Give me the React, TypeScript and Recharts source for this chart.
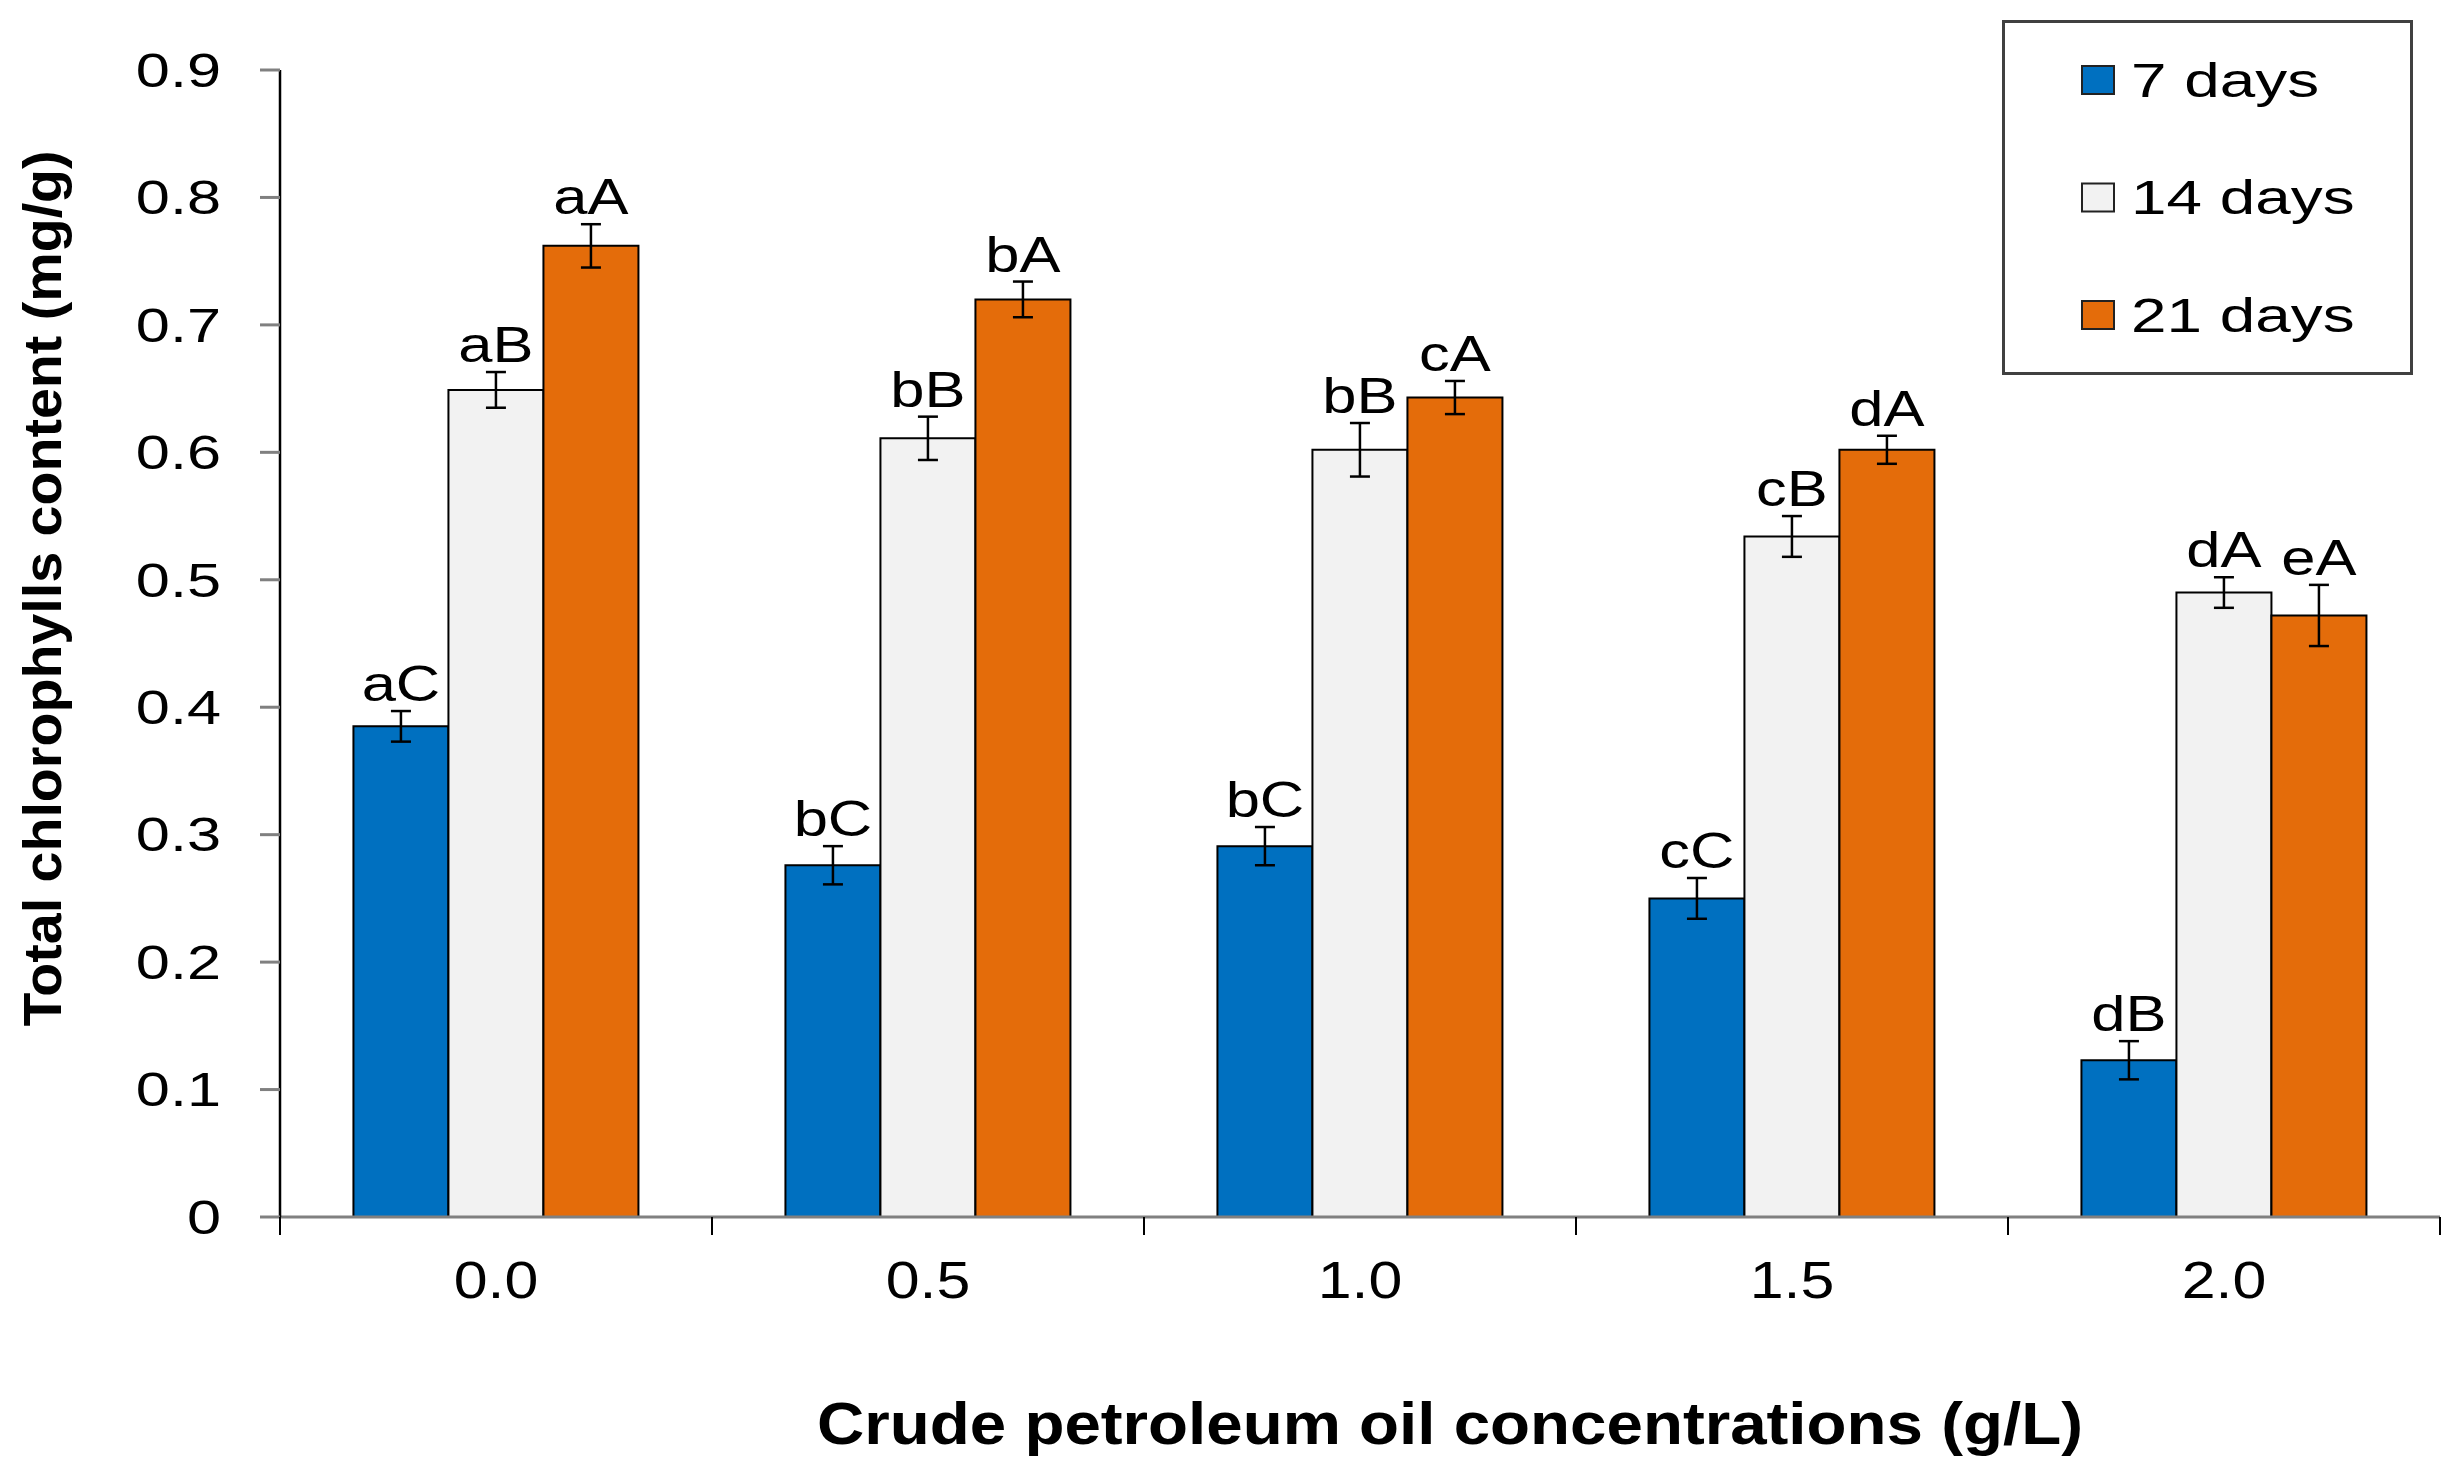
import { BarChart, Bar, XAxis, YAxis, ErrorBar, LabelList, Legend } from 'recharts';

const categories = ['0.0', '0.5', '1.0', '1.5', '2.0'];
const seriesNames = ['7 days', '14 days', '21 days'];
const seriesColors = ['#0070C0', '#F2F2F2', '#E46C0A'];

const days7 = [0.385, 0.276, 0.291, 0.25, 0.123];
const days14 = [0.649, 0.611, 0.602, 0.534, 0.49];
const days21 = [0.762, 0.72, 0.643, 0.602, 0.472];

const err7 = [0.012, 0.015, 0.015, 0.016, 0.015];
const err14 = [0.014, 0.017, 0.021, 0.016, 0.012];
const err21 = [0.017, 0.014, 0.013, 0.011, 0.024];

const letters7 = ['aC', 'bC', 'bC', 'cC', 'dB'];
const letters14 = ['aB', 'bB', 'bB', 'cB', 'dA'];
const letters21 = ['aA', 'bA', 'cA', 'dA', 'eA'];

const yTicks = [0, 0.1, 0.2, 0.3, 0.4, 0.5, 0.6, 0.7, 0.8, 0.9];

const data = categories.map((c, i) => ({
  conc: c,
  d7: days7[i],
  d14: days14[i],
  d21: days21[i],
  e7: err7[i],
  e14: err14[i],
  e21: err21[i],
}));

const FONT = '"Liberation Sans", Arial, sans-serif';
const X_TICK_MARGIN = 43;
const BOUNDARY_TICK = 18;

// text widened horizontally, the source figure is stretched
function Stretch({ x, y, sx = 1, anchor = 'start', size, weight = 'normal', rotate, baseline, children }: any) {
  const t = `translate(${x},${y})${rotate ? ` rotate(${rotate})` : ''} scale(${sx},1)`;
  return (
    <text
      transform={t}
      x={0}
      y={0}
      textAnchor={anchor}
      dominantBaseline={baseline}
      fontFamily={FONT}
      fontSize={size}
      fontWeight={weight}
      fill="#000"
    >
      {children}
    </text>
  );
}

const YTick = ({ x, y, payload }: any) => (
  <Stretch x={x} y={y} sx={1.25} anchor="end" size={49} baseline="central">
    {payload.value === 0 ? '0' : Number(payload.value).toFixed(1)}
  </Stretch>
);

// category label plus the tick marks on the band edges
const XTick = ({ x, y, payload }: any) => {
  const half = payload?.offset ?? 0;
  const axisY = y - X_TICK_MARGIN;
  const last = payload?.index === categories.length - 1 || payload?.value === categories[categories.length - 1];
  return (
    <g>
      {half > 0 && (
        <line x1={x - half} x2={x - half} y1={axisY} y2={axisY + BOUNDARY_TICK} stroke="#000" strokeWidth={2} />
      )}
      {half > 0 && last && (
        <line x1={x + half} x2={x + half} y1={axisY} y2={axisY + BOUNDARY_TICK} stroke="#000" strokeWidth={2} />
      )}
      <Stretch x={x} y={y + 38} sx={1.17} anchor="middle" size={52}>
        {payload.value}
      </Stretch>
    </g>
  );
};

const makeLetter = (vals: number[], errs: number[], letters: string[]) => (p: any) => {
  const vb = p.viewBox ?? p;
  const i = categories.indexOf(String(p.value));
  if (i < 0) return null;
  const x = vb.x ?? p.x;
  const y = vb.y ?? p.y;
  const w = vb.width ?? p.width;
  const h = Math.abs(vb.height ?? p.height);
  const errPx = (h / vals[i]) * errs[i];
  return (
    <Stretch x={x + w / 2} y={y - errPx - 10} sx={1.23} anchor="middle" size={50}>
      {letters[i]}
    </Stretch>
  );
};

const YTitle = (p: any) => {
  const vb = p.viewBox;
  return (
    <Stretch x={vb.x + 42} y={vb.y + vb.height / 2 - 55} sx={1.03} rotate={-90} anchor="middle" size={54} weight="bold" baseline="central">
      Total chlorophylls content (mg/g)
    </Stretch>
  );
};

const XTitle = (p: any) => {
  const vb = p.viewBox;
  return (
    <Stretch x={vb.x + vb.width / 2 + 90} y={vb.y + 227} sx={1.11} anchor="middle" size={59} weight="bold">
      Crude petroleum oil concentrations (g/L)
    </Stretch>
  );
};

const LegendBox = () => (
  <svg width={411} height={355} style={{ display: 'block' }}>
    <rect x={1.5} y={1.5} width={408} height={352} fill="#fff" stroke="#404040" strokeWidth={3} />
    {seriesNames.map((name, i) => (
      <g key={name}>
        <rect x={80} y={60 + i * 117.5 - 14} width={32} height={28} fill={seriesColors[i]} stroke="#222" strokeWidth={2} />
        <Stretch x={129} y={60 + i * 117.5} sx={1.33} size={48} baseline="central">
          {name}
        </Stretch>
      </g>
    ))}
  </svg>
);

export default function App() {
  return (
    <div style={{ position: 'absolute', left: 0, top: 0, background: '#fff' }}>
      <BarChart
        width={2460}
        height={1472}
        data={data}
        margin={{ top: 70, right: 20, left: 0, bottom: 0 }}
        barCategoryGap="17%"
        barGap={0}
      >
        <XAxis
          dataKey="conc"
          height={255}
          axisLine={{ stroke: '#808080', strokeWidth: 3 }}
          tickLine={false}
          tickSize={0}
          tickMargin={X_TICK_MARGIN}
          tick={<XTick />}
          interval={0}
          label={XTitle}
        />
        <YAxis
          width={280}
          domain={[0, 0.9]}
          ticks={yTicks}
          interval={0}
          axisLine={{ stroke: '#000', strokeWidth: 2.5 }}
          tickLine={{ stroke: '#808080', strokeWidth: 3 }}
          tickSize={20}
          tickMargin={39}
          tick={<YTick />}
          label={YTitle}
        />
        <Legend
          content={<LegendBox />}
          layout="horizontal"
          verticalAlign="middle"
          align="center"
          wrapperStyle={{ position: 'absolute', left: 2002, top: 20, width: 411, height: 355 }}
        />
        <Bar dataKey="d7" name={seriesNames[0]} fill={seriesColors[0]} stroke="#000" strokeWidth={2} isAnimationActive={false}>
          <ErrorBar dataKey="e7" width={10} stroke="#000" strokeWidth={2.5} />
          <LabelList dataKey="conc" content={makeLetter(days7, err7, letters7)} />
        </Bar>
        <Bar dataKey="d14" name={seriesNames[1]} fill={seriesColors[1]} stroke="#000" strokeWidth={2} isAnimationActive={false}>
          <ErrorBar dataKey="e14" width={10} stroke="#000" strokeWidth={2.5} />
          <LabelList dataKey="conc" content={makeLetter(days14, err14, letters14)} />
        </Bar>
        <Bar dataKey="d21" name={seriesNames[2]} fill={seriesColors[2]} stroke="#000" strokeWidth={2} isAnimationActive={false}>
          <ErrorBar dataKey="e21" width={10} stroke="#000" strokeWidth={2.5} />
          <LabelList dataKey="conc" content={makeLetter(days21, err21, letters21)} />
        </Bar>
      </BarChart>
    </div>
  );
}
